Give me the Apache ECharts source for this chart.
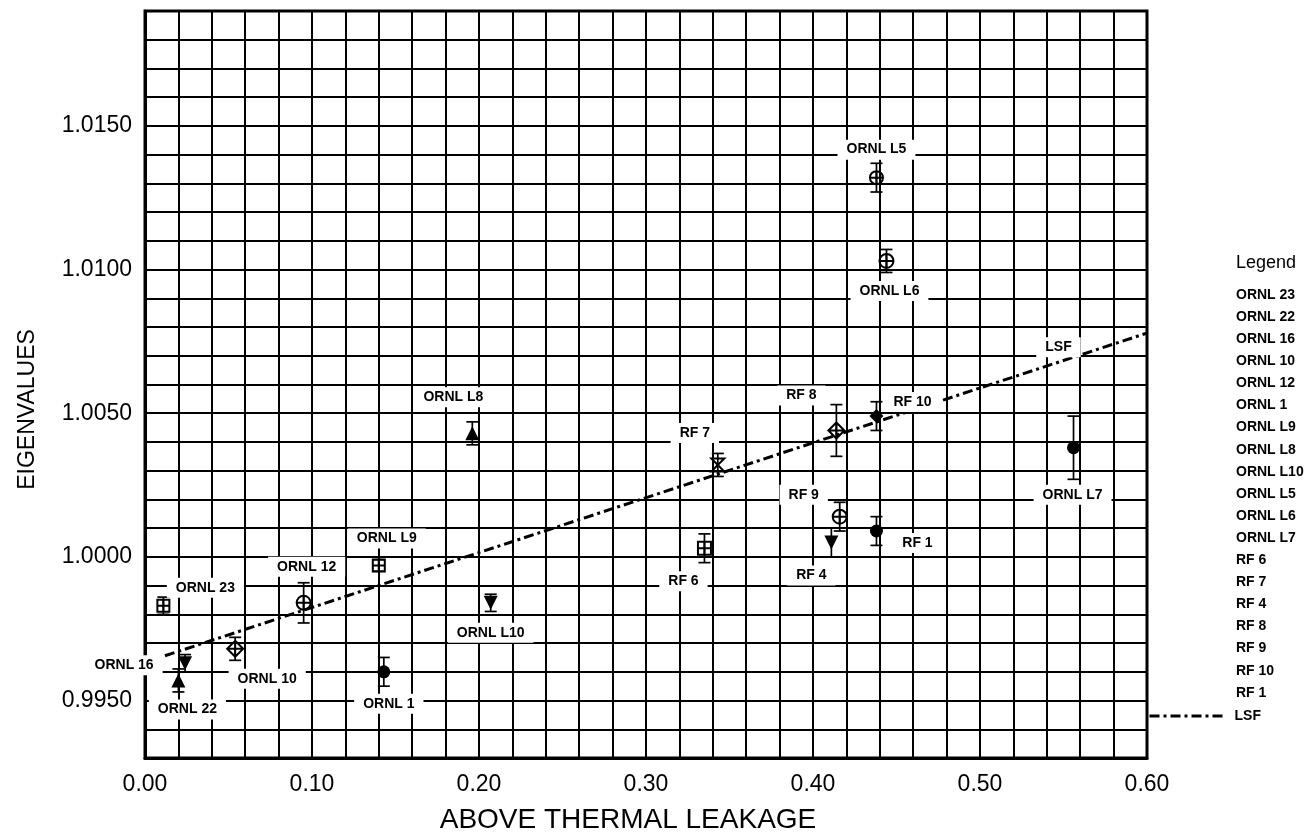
<!DOCTYPE html>
<html><head><meta charset="utf-8">
<script src="https://cdn.jsdelivr.net/npm/echarts@6/dist/echarts.min.js"></script>
<style>html,body{margin:0;padding:0;background:#fff}#c{width:1308px;height:839px}</style>
</head><body><div id="c"></div>
<script>
// ---------- data ----------
const names = ['ORNL 23','ORNL 22','ORNL 16','ORNL 10','ORNL 12','ORNL 1','ORNL L9','ORNL L8','ORNL L10','ORNL L5','ORNL L6','ORNL L7','RF 6','RF 7','RF 4','RF 8','RF 9','RF 10','RF 1'];
const xValues = [0.011, 0.020, 0.024, 0.054, 0.095, 0.143, 0.140, 0.196, 0.207, 0.438, 0.444, 0.556, 0.335, 0.343, 0.411, 0.414, 0.416, 0.438, 0.438];
const yValues = [0.9983, 0.9957, 0.9963, 0.9968, 0.9984, 0.9960, 0.9997, 1.0043, 0.9984, 1.0132, 1.0103, 1.0038, 1.0003, 1.0032, 1.0005, 1.0044, 1.0014, 1.0049, 1.0009];
const errors = [0.0003, 0.0004, 0.0003, 0.0004, 0.0007, 0.0005, 0.0002, 0.0004, 0.0003, 0.0005, 0.0004, 0.0011, 0.0005, 0.0004, 0.0005, 0.0009, 0.0005, 0.0005, 0.0005];
const lsfX = [0, 0.6];
const lsfY = [0.99633, 1.00779];
const xTickLabels = ['0.00','0.10','0.20','0.30','0.40','0.50','0.60'];
const yTickLabels = ['0.9950','1.0000','1.0050','1.0100','1.0150'];

// ---------- styles ----------
const FONT = '"Liberation Sans", Arial, Helvetica, sans-serif';
const SYM = {
  sqx: 'path://M0,0H10V10H0Z M0,5H10 M5,0V10',
  cx: 'path://M10,5A5,5,0,1,1,0,5A5,5,0,1,1,10,5Z M0,5H10 M5,0V10',
  dx: 'path://M5,0L10,5L5,10L0,5Z M0,5H10 M5,0V10',
  hg: 'path://M0,0H10L0,10H10Z',
  tdn: 'path://M0,0H10L5,9Z',
  tup: 'path://M5,0L10,9H0Z'
};
const symbolStyle = {
  'ORNL 23': ['sqx', 12, false], 'ORNL 22': ['tup', 14, true], 'ORNL 16': ['tdn', 14, true],
  'ORNL 10': ['dx', 16, false], 'ORNL 12': ['cx', 14, false], 'ORNL 1': ['circle', 13, true],
  'ORNL L9': ['sqx', 12, false], 'ORNL L8': ['tup', 14, true], 'ORNL L10': ['tdn', 14, true],
  'ORNL L5': ['cx', 13, false], 'ORNL L6': ['cx', 14, false], 'ORNL L7': ['circle', 13, true],
  'RF 6': ['sqx', 13, false], 'RF 7': ['hg', 13, false], 'RF 4': ['tdn', 14, true],
  'RF 8': ['dx', 16, false], 'RF 9': ['cx', 14, false], 'RF 10': ['diamond', 14, true], 'RF 1': ['circle', 13, true]
};
const labelOffset = {
  'ORNL 23': [42,-18], 'ORNL 22': [9,29], 'ORNL 16': [-61,2], 'ORNL 10': [32,30], 'ORNL 12': [3,-36],
  'ORNL 1': [5,32], 'ORNL L9': [8,-27], 'ORNL L8': [-19,-36], 'ORNL L10': [0,30], 'ORNL L5': [0,-28],
  'ORNL L6': [3,30], 'ORNL L7': [-1,47], 'RF 6': [-21,33], 'RF 7': [-23,-32], 'RF 4': [-20,33],
  'RF 8': [-35,-35], 'RF 9': [-36,-22], 'RF 10': [36,-14], 'RF 1': [41,12]
};
const lsfLabelX = 0.547;

const labelBase = { show: true, position: 'inside', backgroundColor: '#fff', padding: [3, 9],
  color: '#000', opacity: 1, fontSize: 14, fontWeight: 'bold', fontFamily: FONT };

const series = names.map((n, i) => {
  const st = symbolStyle[n];
  const filled = st[2];
  return {
    type: 'scatter', name: n, data: [[xValues[i], yValues[i]]],
    symbol: SYM[st[0]] || st[0], symbolSize: st[1],
    itemStyle: filled ? { color: '#000', opacity: 1 } : { color: 'rgba(255,255,255,0)', borderColor: '#000', borderWidth: 2, opacity: 1 },
    label: Object.assign({}, labelBase, { formatter: n, offset: labelOffset[n] }),
    z: 5, silent: true
  };
});

series.push({
  type: 'custom', name: 'errorbars', silent: true, z: 4,
  data: names.map((n, i) => [xValues[i], yValues[i], errors[i]]),
  renderItem: function (params, api) {
    const x = api.value(0), y = api.value(1), e = api.value(2);
    const t = api.coord([x, y + e]), b = api.coord([x, y - e]);
    const w = 6;
    const st = { stroke: '#000', lineWidth: 1.7 };
    return { type: 'group', children: [
      { type: 'line', shape: { x1: t[0], y1: t[1], x2: b[0], y2: b[1] }, style: st },
      { type: 'line', shape: { x1: t[0] - w, y1: t[1], x2: t[0] + w, y2: t[1] }, style: st },
      { type: 'line', shape: { x1: b[0] - w, y1: b[1], x2: b[0] + w, y2: b[1] }, style: st }
    ]};
  }
});

series.push({
  type: 'line', name: 'LSF', data: [[lsfX[0], lsfY[0]], [lsfX[1], lsfY[1]]],
  symbol: 'none', silent: true, z: 3, color: '#000',
  itemStyle: { color: '#000' },
  lineStyle: { color: '#000', width: 3, type: [10, 4, 3, 4] },
  markPoint: {
    silent: true,
    data: [{
      coord: [lsfLabelX, lsfY[0] + (lsfY[1] - lsfY[0]) * (lsfLabelX - lsfX[0]) / (lsfX[1] - lsfX[0])],
      symbol: 'rect', symbolSize: 1, itemStyle: { color: 'rgba(0,0,0,0)' },
      label: Object.assign({}, labelBase, { formatter: 'LSF', offset: [0, -15] })
    }]
  }
});

const chart = echarts.init(document.getElementById('c'), null, { renderer: 'canvas' });
chart.setOption({
  animation: false,
  backgroundColor: '#fff',
  title: { text: 'Legend', left: 1236, top: 254, padding: 0,
    textStyle: { fontSize: 18, fontWeight: 'normal', color: '#000', fontFamily: FONT } },
  legend: [
    { orient: 'vertical', left: 1221, top: 288, padding: 0, itemWidth: 10, itemHeight: 14, itemGap: 8.1,
      icon: 'none', data: names, selectedMode: false,
      textStyle: { fontSize: 14, fontWeight: 'bold', color: '#000', fontFamily: FONT, lineHeight: 14 } },
    { orient: 'vertical', left: 1148, top: 709, padding: 0, itemWidth: 73, itemHeight: 14,
      data: [{ name: 'LSF', itemStyle: { opacity: 0 } }], selectedMode: false,
      itemStyle: { opacity: 0 },
      lineStyle: { color: '#000', width: 3, type: [10, 4, 3, 4] },
      textStyle: { fontSize: 14, fontWeight: 'bold', color: '#000', fontFamily: FONT, lineHeight: 14, padding: [0, 0, 0, 7] } }
  ],
  grid: { left: 145, right: 161, top: 11, bottom: 77, show: true, borderColor: '#000', borderWidth: 3 },
  xAxis: {
    type: 'value', min: 0, max: 0.6, interval: 0.02,
    axisLine: { show: true, onZero: false, lineStyle: { color: '#000', width: 3 } },
    axisTick: { show: false },
    splitLine: { show: true, lineStyle: { color: '#000', width: 2 } },
    axisLabel: { formatter: v => { const s = v.toFixed(2); return xTickLabels.includes(s) ? s : ''; },
      fontSize: 23, color: '#000', margin: 15, fontFamily: FONT },
    name: 'ABOVE THERMAL LEAKAGE', nameLocation: 'middle', nameGap: 48,
    nameTextStyle: { fontSize: 28, color: '#000', fontFamily: FONT, padding: [0, 36, 0, 0] }
  },
  yAxis: {
    type: 'value', min: 0.993, max: 1.019, interval: 0.001,
    axisLine: { show: true, onZero: false, lineStyle: { color: '#000', width: 3 } },
    axisTick: { show: false },
    splitLine: { show: true, lineStyle: { color: '#000', width: 2 } },
    axisLabel: { formatter: v => { const s = v.toFixed(4); return yTickLabels.includes(s) ? s : ''; },
      fontSize: 23, color: '#000', margin: 13, fontFamily: FONT },
    name: 'EIGENVALUES', nameLocation: 'middle', nameGap: 106, nameRotate: 90,
    nameTextStyle: { fontSize: 23, color: '#000', fontFamily: FONT, padding: [0, 50, 0, 0] }
  },
  series: series
});
</script>
</body></html>
